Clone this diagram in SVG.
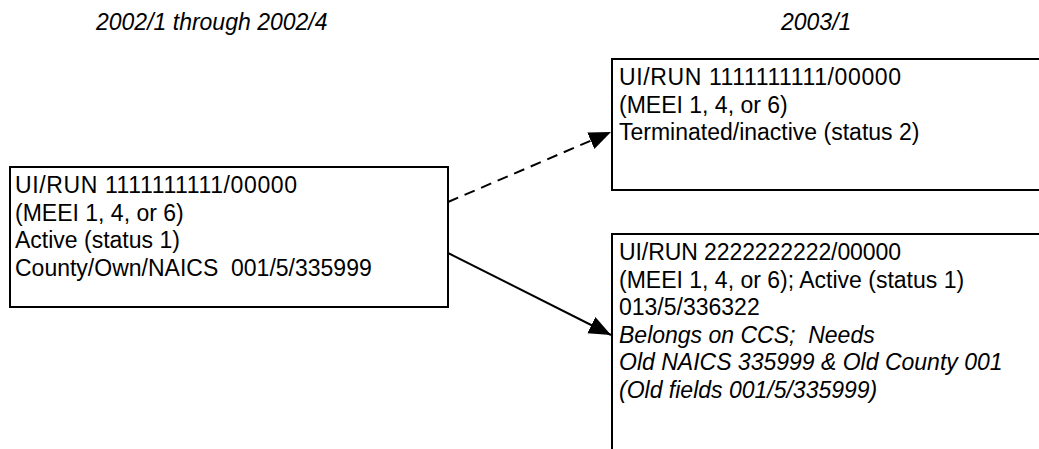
<svg xmlns="http://www.w3.org/2000/svg" width="1039" height="449" viewBox="0 0 1039 449">
<style>
  text { font-family: "Liberation Sans", Arial, sans-serif; font-size: 23px; fill: #000; }
  .it { font-style: italic; }
  .box { fill: #fff; stroke: #000; stroke-width: 2; }
  .conn { stroke: #000; stroke-width: 2; fill: none; }
  .dash { stroke-dasharray: 11 7; }
</style>
<defs>
  <marker id="arr" markerWidth="24" markerHeight="20" refX="22" refY="9" orient="auto" markerUnits="userSpaceOnUse">
    <path d="M0,0 L22,9 L0,18 Z" fill="#000"/>
  </marker>
</defs>
<g id="headers">
  <text class="it" x="96" y="30">2002/1 through 2002/4</text>
  <text class="it" x="781" y="30">2003/1</text>
</g>
<g id="connectors">
  <line class="conn dash" x1="448" y1="202" x2="611" y2="132" marker-end="url(#arr)"/>
  <line class="conn" x1="448" y1="253" x2="611" y2="335" marker-end="url(#arr)"/>
</g>
<g id="node-source">
  <rect class="box" x="10" y="167" width="438" height="140"/>
  <text x="15" y="193" textLength="282" lengthAdjust="spacing">UI/RUN 1111111111/00000</text>
  <text x="15" y="220.5">(MEEI 1, 4, or 6)</text>
  <text x="15" y="248">Active (status 1)</text>
  <text x="15" y="275.5" xml:space="preserve">County/Own/NAICS  001/5/335999</text>
</g>
<g id="node-terminated">
  <rect class="box" x="612" y="59" width="440" height="131"/>
  <text x="619" y="85" textLength="282" lengthAdjust="spacing">UI/RUN 1111111111/00000</text>
  <text x="619" y="112.5">(MEEI 1, 4, or 6)</text>
  <text x="619" y="140">Terminated/inactive (status 2)</text>
</g>
<g id="node-active">
  <rect class="box" x="612" y="234" width="440" height="240"/>
  <text x="619" y="260" textLength="282" lengthAdjust="spacing">UI/RUN 2222222222/00000</text>
  <text x="619" y="287.5">(MEEI 1, 4, or 6); Active (status 1)</text>
  <text x="619" y="315">013/5/336322</text>
  <text class="it" x="619" y="342.5" xml:space="preserve">Belongs on CCS;  Needs</text>
  <text class="it" x="619" y="370">Old NAICS 335999 &amp; Old County 001</text>
  <text class="it" x="619" y="397.5">(Old fields 001/5/335999)</text>
</g>
</svg>
